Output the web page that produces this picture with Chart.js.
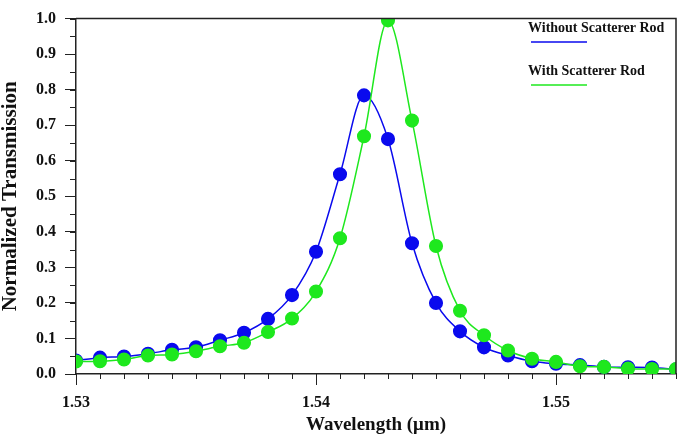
<!DOCTYPE html>
<html>
<head>
<meta charset="utf-8">
<script src="https://cdn.jsdelivr.net/npm/chart.js@4/dist/chart.umd.min.js"></script>
<style>
	html, body { margin: 0; padding: 0; background: #fff; }
	#wrap { width: 685px; height: 440px; }
</style>
</head>
<body>
<div id="wrap"><canvas id="myChart"></canvas></div>
<script>
const wavelengths = [
	1.530, 1.531, 1.532, 1.533, 1.534, 1.535, 1.536, 1.537, 1.538, 1.539,
	1.540, 1.541, 1.542, 1.543, 1.544, 1.545, 1.546, 1.547, 1.548, 1.549,
	1.550, 1.551, 1.552, 1.553, 1.554, 1.555,
];
const withoutRod = [
	0.038, 0.046, 0.049, 0.057, 0.068, 0.075, 0.095, 0.116, 0.155, 0.222,
	0.344, 0.562, 0.784, 0.661, 0.368, 0.200, 0.120, 0.075, 0.052, 0.036,
	0.029, 0.025, 0.020, 0.019, 0.018, 0.013,
];
const withRod = [
	0.035, 0.036, 0.041, 0.052, 0.055, 0.064, 0.078, 0.088, 0.118, 0.156,
	0.232, 0.382, 0.669, 0.995, 0.713, 0.360, 0.178, 0.109, 0.066, 0.043,
	0.034, 0.022, 0.020, 0.015, 0.014, 0.014,
];
const xTickLabels = [1.53, 1.54, 1.55];
const yTickLabels = [0.0, 0.1, 0.2, 0.3, 0.4, 0.5, 0.6, 0.7, 0.8, 0.9, 1.0];
const seriesNames = ["Without Scatterer Rod", "With Scatterer Rod"];

const BLUE = "#0a0aee";
const GREEN = "#1ee81e";
const FONT = "'Liberation Serif', 'Times New Roman', serif";

function toPoints(ys) {
	return wavelengths.map((x, i) => ({ x: x, y: ys[i] }));
}

// frame, minor ticks and the little legend in the corner
const decorations = {
	id: "decorations",
	afterDraw(chart) {
		const ctx = chart.ctx;
		const area = chart.chartArea;
		const xs = chart.scales.x;
		const ys = chart.scales.y;
		ctx.save();
		ctx.strokeStyle = "#222";
		ctx.lineWidth = 1.5;
		ctx.beginPath();
		ctx.moveTo(area.left, area.top);
		ctx.lineTo(area.right, area.top);
		ctx.lineTo(area.right, area.bottom);
		ctx.stroke();

		ctx.lineWidth = 1;
		ctx.beginPath();
		for (let i = 0; i <= 25; i++) {
			const px = Math.round(xs.getPixelForValue(1.53 + i * 0.001)) + 0.5;
			ctx.moveTo(px, area.bottom);
			ctx.lineTo(px, area.bottom + 5);
		}
		for (let i = 0; i <= 20; i++) {
			const py = Math.round(ys.getPixelForValue(i * 0.05)) + 0.5;
			ctx.moveTo(area.left, py);
			ctx.lineTo(area.left - 6, py);
		}
		ctx.stroke();

		const colors = [BLUE, GREEN];
		ctx.font = "bold 14px " + FONT;
		ctx.fillStyle = "#111";
		ctx.textBaseline = "alphabetic";
		seriesNames.forEach((name, i) => {
			const top = 32 + i * 43;
			ctx.fillText(name, 528, top);
			ctx.strokeStyle = colors[i];
			ctx.lineWidth = 1.5;
			ctx.beginPath();
			ctx.moveTo(531, top + 10);
			ctx.lineTo(587, top + 10);
			ctx.stroke();
		});
		ctx.restore();
	},
};

const canvas = document.getElementById("myChart");
const ctx = canvas.getContext("2d");

new Chart(ctx, {
	type: "line",
	data: {
		datasets: [
			{
				label: seriesNames[0],
				data: toPoints(withoutRod),
				borderColor: BLUE,
				backgroundColor: BLUE,
				pointBackgroundColor: BLUE,
				pointBorderColor: BLUE,
				borderWidth: 1.5,
				pointRadius: 6.3,
				cubicInterpolationMode: "monotone",
				order: 1,
			},
			{
				label: seriesNames[1],
				data: toPoints(withRod),
				borderColor: GREEN,
				backgroundColor: GREEN,
				pointBackgroundColor: GREEN,
				pointBorderColor: GREEN,
				borderWidth: 1.5,
				pointRadius: 6.3,
				cubicInterpolationMode: "monotone",
				order: 0,
			},
		],
	},
	options: {
		responsive: true,
		maintainAspectRatio: false,
		animation: false,
		layout: { padding: { top: 8, right: 9, left: 0, bottom: 0 } },
		plugins: {
			legend: { display: false },
			tooltip: { enabled: false },
		},
		scales: {
			x: {
				type: "linear",
				min: 1.53,
				max: 1.555,
				afterBuildTicks: (scale) => {
					scale.ticks = xTickLabels.map((v) => ({ value: v }));
				},
				afterFit: (scale) => {
					scale.height = 66;
				},
				grid: {
					drawOnChartArea: false,
					tickLength: 11,
					tickColor: "#222",
					tickWidth: 1,
				},
				border: { color: "#222", width: 1.5 },
				ticks: {
					autoSkip: false,
					maxRotation: 0,
					padding: 8,
					color: "#111",
					font: { family: FONT, size: 16, weight: "bold" },
					callback: (v) => v.toFixed(2),
				},
				title: {
					display: true,
					text: "Wavelength (\u03bcm)",
					color: "#111",
					font: { family: FONT, size: 19, weight: "bold", lineHeight: 1 },
					padding: { top: 0, bottom: 5 },
				},
			},
			y: {
				min: 0,
				max: 1,
				afterBuildTicks: (scale) => {
					scale.ticks = yTickLabels.map((v) => ({ value: v }));
				},
				afterFit: (scale) => {
					scale.width = 76;
				},
				grid: {
					drawOnChartArea: false,
					tickLength: 11,
					tickColor: "#222",
					tickWidth: 1,
				},
				border: { color: "#222", width: 1.5 },
				ticks: {
					autoSkip: false,
					padding: 9,
					color: "#111",
					font: { family: FONT, size: 16, weight: "bold" },
					callback: (v) => v.toFixed(1),
				},
				title: {
					display: true,
					text: "Normalized Transmission",
					color: "#111",
					font: { family: FONT, size: 21, weight: "bold", lineHeight: 1 },
					padding: { top: 0, bottom: 0 },
				},
			},
		},
	},
	plugins: [decorations],
});
</script>
</body>
</html>
